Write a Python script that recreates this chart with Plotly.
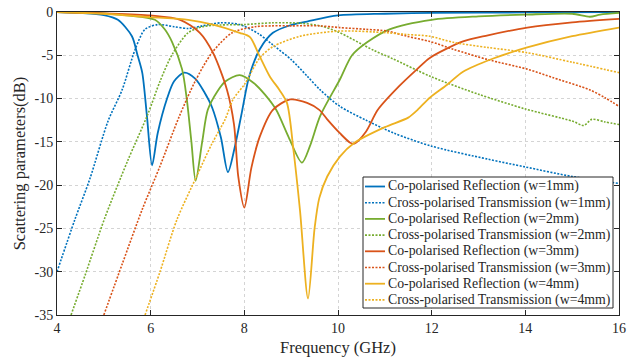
import plotly.graph_objects as go

# ---- data ----
f_r1 = [4, 4.5, 5, 5.3, 5.6, 5.72, 5.82, 5.92, 6.03, 6.15, 6.35, 6.5, 6.72, 6.95, 7.15, 7.31, 7.5, 7.65, 7.8, 7.95, 8.1, 8.33, 8.61, 9.0, 9.34, 10.0, 11, 12, 14, 16]
v_r1 = [0, -0.1, -0.35, -0.9, -2.8, -5.0, -7.0, -12.0, -17.7, -14.0, -10.0, -8.0, -7.0, -7.7, -9.3, -11.0, -14.5, -18.5, -15.5, -11.5, -7.5, -4.3, -2.4, -1.5, -1.1, -0.4, -0.2, -0.1, -0.05, 0]

f_t1 = [4, 4.38, 4.7, 5.09, 5.39, 5.67, 5.88, 6.16, 6.5, 6.8, 7.1, 7.5, 7.9, 8.3, 8.61, 9.0, 9.34, 9.62, 10.04, 10.6, 11.2, 12.0, 13.2, 14.0, 15.0, 16.0]
v_t1 = [-30, -24, -19.3, -12.6, -9.0, -4.3, -2.0, -1.45, -1.7, -1.9, -1.6, -1.25, -1.45, -2.5, -3.8, -5.5, -7.4, -9.0, -10.9, -12.5, -14.0, -15.5, -17.0, -17.9, -19.0, -19.8]

f_r2 = [4, 5, 5.5, 6.09, 6.3, 6.46, 6.67, 6.77, 6.87, 6.96, 7.1, 7.22, 7.42, 7.6, 7.9, 8.2, 8.45, 8.68, 8.95, 9.23, 9.4, 9.62, 10.04, 10.3, 10.62, 11.1, 12, 13, 14, 15, 15.38, 15.6, 16]
v_r2 = [0, -0.15, -0.4, -0.9, -2.0, -3.5, -6.6, -10.0, -15.0, -19.5, -15.0, -11.3, -9.2, -8.0, -7.3, -8.2, -9.6, -11.3, -14.5, -17.4, -15.5, -12.0, -7.8, -5.0, -3.5, -2.0, -0.9, -0.5, -0.3, -0.2, -0.55, -0.3, -0.1]

f_t2 = [4.3, 4.6, 5.02, 5.5, 5.94, 6.2, 6.46, 6.8, 7.1, 7.5, 8.0, 8.6, 9.2, 9.62, 10.0, 10.75, 11.17, 12.0, 13.0, 14.0, 15.0, 15.25, 15.42, 15.7, 16]
v_t2 = [-35, -30.4, -23.8, -17.3, -11.8, -8.0, -4.9, -2.4, -1.7, -1.5, -1.45, -1.25, -1.3, -1.6, -2.3, -4.4, -5.4, -7.5, -9.5, -11.2, -12.6, -13.1, -12.4, -12.7, -13.0]

f_r3 = [4, 5, 6, 6.63, 7.05, 7.33, 7.63, 7.78, 7.87, 8.0, 8.15, 8.33, 8.61, 8.98, 9.34, 9.6, 9.77, 10.04, 10.26, 10.35, 10.6, 10.85, 11.3, 11.69, 11.96, 12.67, 13.2, 14.04, 15, 16]
v_r3 = [0, -0.15, -0.4, -0.9, -2.4, -4.7, -9.0, -13.0, -19.0, -22.6, -18.0, -14.4, -11.3, -10.1, -10.5, -11.3, -12.4, -14.0, -15.1, -15.2, -13.8, -11.3, -8.6, -6.6, -5.3, -3.4, -2.7, -1.8, -1.2, -0.8]

f_t3 = [5.0, 5.4, 5.82, 6.2, 6.6, 6.95, 7.31, 7.74, 8.23, 8.6, 9.0, 9.6, 10.04, 10.6, 11.05, 11.47, 11.96, 12.46, 13.2, 14.04, 14.6, 15.38, 15.7, 16]
v_t3 = [-35, -29, -22.8, -17.8, -12.2, -8.0, -4.7, -2.4, -1.7, -1.6, -1.6, -1.6, -1.8, -2.0, -2.2, -2.8, -3.4, -4.3, -5.5, -6.6, -7.6, -9.0, -9.9, -10.9]

f_r4 = [4, 5, 6, 6.8, 7.33, 7.9, 8.12, 8.3, 8.55, 8.75, 8.91, 9.05, 9.19, 9.36, 9.5, 9.6, 9.77, 10.04, 10.35, 11.0, 11.5, 11.7, 11.96, 12.33, 12.67, 13.3, 14.04, 15, 16]
v_r4 = [0, -0.2, -0.6, -0.9, -1.45, -2.4, -2.9, -4.8, -7.5, -9.0, -10.5, -16.0, -23.0, -33.1, -25.0, -21.5, -19.0, -16.7, -15.1, -13.3, -12.2, -11.3, -9.9, -8.4, -6.9, -5.4, -4.1, -2.8, -1.8]

f_t4 = [5.88, 6.2, 6.56, 6.98, 7.3, 7.59, 7.76, 8.01, 8.33, 8.61, 9.19, 10.04, 11.05, 11.47, 11.96, 12.46, 13.2, 14.04, 15.0, 16]
v_t4 = [-35, -30, -24, -19, -15.3, -12.4, -10.1, -8.3, -5.3, -4.0, -2.8, -2.2, -2.4, -2.6, -2.8, -3.5, -4.1, -4.7, -5.8, -7.0]

names = [
    "Co-polarised Reflection (w=1mm)", "Cross-polarised Transmission (w=1mm)",
    "Co-polarised Reflection (w=2mm)", "Cross-polarised Transmission (w=2mm)",
    "Co-polarised Reflection (w=3mm)", "Cross-polarised Transmission (w=3mm)",
    "Co-polarised Reflection (w=4mm)", "Cross-polarised Transmission (w=4mm)",
]
xs = [f_r1, f_t1, f_r2, f_t2, f_r3, f_t3, f_r4, f_t4]
ys = [v_r1, v_t1, v_r2, v_t2, v_r3, v_t3, v_r4, v_t4]
colors = ["#0072BD", "#0072BD", "#77AC30", "#77AC30", "#D95319", "#D95319", "#EDB120", "#EDB120"]
dashes = ["solid", "dot", "solid", "dot", "solid", "dot", "solid", "dot"]

x_ticks = [4, 6, 8, 10, 12, 14, 16]
y_ticks = [0, -5, -10, -15, -20, -25, -30, -35]

FONT = "Liberation Serif, Times New Roman, serif"
DOT = "2px,1.5px"

fig = go.Figure()
for name, fx, fy, col, dash in zip(names, xs, ys, colors, dashes):
    fig.add_trace(go.Scatter(
        x=fx, y=fy, name=name, mode="lines", showlegend=False,
        line=dict(color=col, width=1.8 if dash == "solid" else 1.6,
                  dash="solid" if dash == "solid" else DOT,
                  shape="spline", smoothing=0.8),
    ))

axis_common = dict(
    showline=True, linecolor="#262626", linewidth=1, mirror="ticks",
    ticks="inside", ticklen=5, tickcolor="#262626",
    showgrid=True, gridcolor="#d4d4d4", griddash="dot", gridwidth=1,
    zeroline=False, automargin=False,
    tickfont=dict(family=FONT, size=14, color="#262626"),
)

# ---- custom legend (box, line samples, labels) in paper coordinates ----
L_PX, R_PX, T_PX, B_PX = 57, 619, 12, 315
def px_x(p):
    return (p - L_PX) / (R_PX - L_PX)
def px_y(p):
    return (B_PX - p) / (B_PX - T_PX)

shapes = [dict(type="rect", xref="paper", yref="paper",
               x0=px_x(363), x1=px_x(613), y0=px_y(308), y1=px_y(177),
               line=dict(color="#262626", width=1), fillcolor="white", layer="above")]
annotations = []
row0, row_step = 186.5, 16.2
for i, (name, col, dash) in enumerate(zip(names, colors, dashes)):
    yc = row0 + i * row_step
    shapes.append(dict(type="line", xref="paper", yref="paper",
                       x0=px_x(365), x1=px_x(385), y0=px_y(yc), y1=px_y(yc),
                       line=dict(color=col, width=1.8 if dash == "solid" else 1.6,
                                 dash="solid" if dash == "solid" else DOT),
                       layer="above"))
    annotations.append(dict(xref="paper", yref="paper", x=px_x(386), y=px_y(yc),
                            xanchor="left", yanchor="middle", showarrow=False,
                            text=name, font=dict(family=FONT, size=13.8, color="#262626")))

fig.update_layout(
    width=640, height=361,
    margin=dict(l=L_PX, r=640 - R_PX, t=T_PX, b=361 - B_PX, autoexpand=False),
    paper_bgcolor="white", plot_bgcolor="white",
    font=dict(family=FONT, color="#262626"),
    showlegend=False,
    shapes=shapes, annotations=annotations,
    xaxis=dict(range=[4, 16], tickvals=x_ticks, ticktext=[str(t) for t in x_ticks],
               title=dict(text="Frequency (GHz)", font=dict(family=FONT, size=16.5), standoff=6),
               **axis_common),
    yaxis=dict(range=[-35, 0], tickvals=y_ticks, ticktext=[str(t) for t in y_ticks],
               title=dict(text="Scattering parameters(dB)", font=dict(family=FONT, size=16.5), standoff=4),
               **axis_common),
)

fig.write_html("out.html")
